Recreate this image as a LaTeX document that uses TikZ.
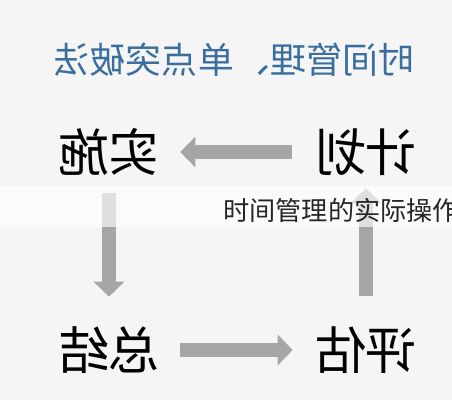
\documentclass[tikz,border=0pt]{standalone}
\usepackage{fontspec}
\newfontfamily\cjk{Noto Sans CJK SC}
\usetikzlibrary{arrows.meta}
\definecolor{bggray}{RGB}{245,245,245}
\definecolor{arrowgray}{RGB}{166,166,166}
\definecolor{titleblue}{RGB}{58,110,158}

\begin{document}
\begin{tikzpicture}[x=0.02cm, y=-0.02cm,
  stage/.style={inner sep=0, minimum width=2.2cm, minimum height=1.2cm, xscale=-1,
    font=\cjk\fontsize{29}{29}\selectfont},
  flow/.style={line width=0.28cm, arrowgray, -{Triangle[width=0.6cm,length=0.3cm]}}]
  % Background
  \fill[bggray] (0,0) rectangle (452,400);
  \useasboundingbox (0,0) rectangle (452,400);

  % Title (mirrored)
  \node[xscale=-1, inner sep=0, text=titleblue, font=\cjk\fontsize{20.5}{20.5}\selectfont]
    (title) at (234,60) {时间管理、单点突破法};

  % Four stages
  \node[stage] (plan) at (366,152) {计划};
  \node[stage] (doit) at (109,152) {实施};
  \node[stage] (sum)  at (109,350) {总结};
  \node[stage] (eval) at (366,350) {评估};

  % Cycle arrows
  \draw[flow, shorten <=0.38cm, shorten >=0.32cm] (plan) -- (doit);
  \draw[flow, shorten <=0.22cm, shorten >=0.46cm] (doit) -- (sum);
  \draw[flow, shorten <=0.32cm, shorten >=0.36cm] (sum) -- (eval);
  \draw[flow, shorten <=0.48cm, shorten >=0.12cm] (eval) -- (plan);

  % Caption band
  \fill[white, opacity=0.65] (0,186) rectangle (452,227);
  \node[anchor=west, inner sep=0, text=black!85, font=\cjk\fontsize{14.9}{14.9}\selectfont]
    (caption) at (223,210) {时间管理的实际操作};
\end{tikzpicture}
\end{document}
